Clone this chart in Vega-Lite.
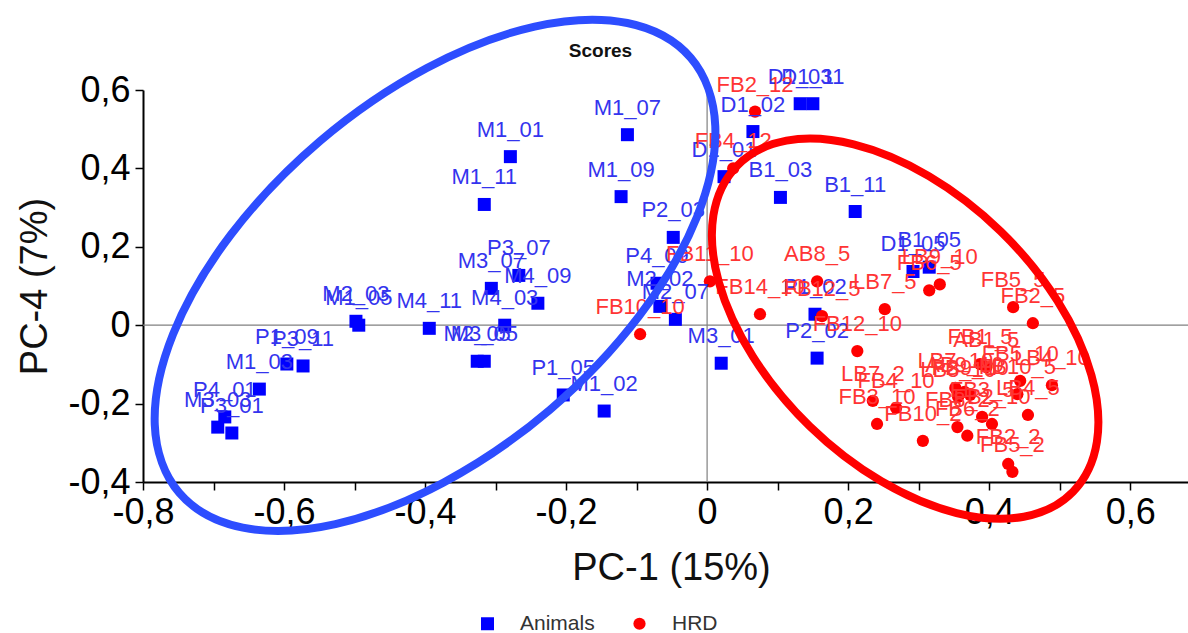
{
  "$schema": "https://vega.github.io/schema/vega-lite/v6.json",
  "width": 1045,
  "height": 392,
  "autosize": {"type": "none"},
  "padding": {"left": 143, "top": 90, "right": 0, "bottom": 151},
  "background": "white",
  "title": {
    "text": "Scores",
    "font": "Liberation Sans",
    "fontSize": 19,
    "fontWeight": "bold",
    "color": "#111111",
    "anchor": "middle",
    "dx": -65,
    "offset": -57
  },
  "config": {
    "view": {"stroke": null},
    "axis": {
      "grid": false,
      "domainColor": "#000000",
      "domainWidth": 2,
      "tickColor": "#000000",
      "tickWidth": 1.5,
      "tickSize": 8,
      "labelFont": "Liberation Sans",
      "labelFontSize": 36,
      "labelColor": "#000000",
      "labelPadding": 5,
      "labelOverlap": false,
      "labelFlush": false,
      "titleFont": "Liberation Sans",
      "titleFontSize": 38,
      "titleFontWeight": "normal",
      "titleColor": "#111111"
    }
  },
  "datasets": {
    "pts": [
      {"group": "Animals", "name": "M1_07", "x": -0.113, "y": 0.486},
      {"group": "Animals", "name": "M1_01", "x": -0.279, "y": 0.430},
      {"group": "Animals", "name": "M1_11", "x": -0.316, "y": 0.308},
      {"group": "Animals", "name": "M1_09", "x": -0.122, "y": 0.328},
      {"group": "Animals", "name": "D1_01", "x": 0.024, "y": 0.379},
      {"group": "Animals", "name": "D1_02", "x": 0.065, "y": 0.494},
      {"group": "Animals", "name": "D1_03", "x": 0.132, "y": 0.565},
      {"group": "Animals", "name": "D1_11", "x": 0.150, "y": 0.565},
      {"group": "Animals", "name": "P2_03", "x": -0.048, "y": 0.224},
      {"group": "Animals", "name": "P4_09", "x": -0.071, "y": 0.107},
      {"group": "Animals", "name": "M2_02", "x": -0.067, "y": 0.048},
      {"group": "Animals", "name": "M2_07", "x": -0.045, "y": 0.015},
      {"group": "Animals", "name": "M3_07", "x": -0.306, "y": 0.094},
      {"group": "Animals", "name": "P3_07", "x": -0.267, "y": 0.127},
      {"group": "Animals", "name": "M4_09", "x": -0.240, "y": 0.056},
      {"group": "Animals", "name": "M4_03", "x": -0.287, "y": 0.0},
      {"group": "Animals", "name": "M4_11", "x": -0.394, "y": -0.008},
      {"group": "Animals", "name": "M2_03", "x": -0.498, "y": 0.010},
      {"group": "Animals", "name": "M1_05", "x": -0.494, "y": 0.0},
      {"group": "Animals", "name": "M2_05", "x": -0.326, "y": -0.092},
      {"group": "Animals", "name": "M3_05", "x": -0.316, "y": -0.092},
      {"group": "Animals", "name": "P1_09", "x": -0.596, "y": -0.099},
      {"group": "Animals", "name": "P3_11", "x": -0.573, "y": -0.104},
      {"group": "Animals", "name": "M1_03", "x": -0.635, "y": -0.163},
      {"group": "Animals", "name": "P4_01", "x": -0.684, "y": -0.234},
      {"group": "Animals", "name": "M3_03", "x": -0.694, "y": -0.260},
      {"group": "Animals", "name": "P3_01", "x": -0.674, "y": -0.275},
      {"group": "Animals", "name": "P1_05", "x": -0.204, "y": -0.178},
      {"group": "Animals", "name": "M1_02", "x": -0.146, "y": -0.219},
      {"group": "Animals", "name": "M3_01", "x": 0.020, "y": -0.097},
      {"group": "Animals", "name": "B1_03", "x": 0.104, "y": 0.326},
      {"group": "Animals", "name": "B1_11", "x": 0.210, "y": 0.290},
      {"group": "Animals", "name": "D1_05", "x": 0.292, "y": 0.137},
      {"group": "Animals", "name": "B1_05", "x": 0.315, "y": 0.148},
      {"group": "Animals", "name": "P1_02", "x": 0.153, "y": 0.028},
      {"group": "Animals", "name": "P2_02", "x": 0.156, "y": -0.084},
      {"group": "HRD", "name": "FB11_10", "x": 0.004, "y": 0.112},
      {"group": "HRD", "name": "FB14_10", "x": 0.075, "y": 0.028},
      {"group": "HRD", "name": "AB8_5", "x": 0.156, "y": 0.112},
      {"group": "HRD", "name": "FB12_5", "x": 0.163, "y": 0.023},
      {"group": "HRD", "name": "LB7_5", "x": 0.252, "y": 0.041},
      {"group": "HRD", "name": "FB12_10", "x": 0.213, "y": -0.066},
      {"group": "HRD", "name": "FB6_5", "x": 0.315, "y": 0.089},
      {"group": "HRD", "name": "LB9_10", "x": 0.330, "y": 0.104},
      {"group": "HRD", "name": "FB5_5", "x": 0.434, "y": 0.046},
      {"group": "HRD", "name": "FB2_5", "x": 0.462, "y": 0.005},
      {"group": "HRD", "name": "FB4_12", "x": 0.037, "y": 0.400},
      {"group": "HRD", "name": "FB2_12", "x": 0.068, "y": 0.545},
      {"group": "HRD", "name": "FB10_10", "x": -0.095, "y": -0.023},
      {"group": "HRD", "name": "FB1_5", "x": 0.387, "y": -0.099},
      {"group": "HRD", "name": "AB1_5", "x": 0.396, "y": -0.107},
      {"group": "HRD", "name": "FB5_10", "x": 0.444, "y": -0.142},
      {"group": "HRD", "name": "LB4_10", "x": 0.489, "y": -0.153},
      {"group": "HRD", "name": "FB10_5", "x": 0.440, "y": -0.176},
      {"group": "HRD", "name": "LB7_10", "x": 0.352, "y": -0.160},
      {"group": "HRD", "name": "AB9_10", "x": 0.365, "y": -0.170},
      {"group": "HRD", "name": "FB9_10", "x": 0.373, "y": -0.178},
      {"group": "HRD", "name": "LB8_10", "x": 0.356, "y": -0.183},
      {"group": "HRD", "name": "LB7_2", "x": 0.235, "y": -0.193},
      {"group": "HRD", "name": "FB4_10", "x": 0.268, "y": -0.211},
      {"group": "HRD", "name": "FB3_10", "x": 0.241, "y": -0.252},
      {"group": "HRD", "name": "FB3_5", "x": 0.390, "y": -0.234},
      {"group": "HRD", "name": "FB2_10", "x": 0.404, "y": -0.252},
      {"group": "HRD", "name": "LB4_5", "x": 0.455, "y": -0.229},
      {"group": "HRD", "name": "FB8_2", "x": 0.355, "y": -0.260},
      {"group": "HRD", "name": "FB6_2", "x": 0.369, "y": -0.282},
      {"group": "HRD", "name": "FB10_2", "x": 0.306, "y": -0.295},
      {"group": "HRD", "name": "FB2_2", "x": 0.427, "y": -0.354},
      {"group": "HRD", "name": "FB5_2", "x": 0.433, "y": -0.374}
    ],
    "rings": [
      {"ring": "blue", "i": 0, "x": -0.0231, "y": 0.682},
      {"ring": "blue", "i": 1, "x": 0.0116, "y": 0.508},
      {"ring": "blue", "i": 2, "x": -0.0142, "y": 0.277},
      {"ring": "blue", "i": 3, "x": -0.0965, "y": 0.023},
      {"ring": "blue", "i": 4, "x": -0.2228, "y": -0.2155},
      {"ring": "blue", "i": 5, "x": -0.3742, "y": -0.4017},
      {"ring": "blue", "i": 6, "x": -0.5271, "y": -0.5074},
      {"ring": "blue", "i": 7, "x": -0.6584, "y": -0.5165},
      {"ring": "blue", "i": 8, "x": -0.7485, "y": -0.4277},
      {"ring": "blue", "i": 9, "x": -0.7833, "y": -0.2539},
      {"ring": "blue", "i": 10, "x": -0.7574, "y": -0.0229},
      {"ring": "blue", "i": 11, "x": -0.6752, "y": 0.2313},
      {"ring": "blue", "i": 12, "x": -0.5488, "y": 0.47},
      {"ring": "blue", "i": 13, "x": -0.3974, "y": 0.6562},
      {"ring": "blue", "i": 14, "x": -0.2445, "y": 0.7618},
      {"ring": "blue", "i": 15, "x": -0.1132, "y": 0.771},
      {"ring": "red", "i": 0, "x": 0.519, "y": -0.4247},
      {"ring": "red", "i": 1, "x": 0.4492, "y": -0.4885},
      {"ring": "red", "i": 2, "x": 0.3538, "y": -0.4791},
      {"ring": "red", "i": 3, "x": 0.2472, "y": -0.3982},
      {"ring": "red", "i": 4, "x": 0.1457, "y": -0.258},
      {"ring": "red", "i": 5, "x": 0.0648, "y": -0.0796},
      {"ring": "red", "i": 6, "x": 0.0167, "y": 0.1092},
      {"ring": "red", "i": 7, "x": 0.0089, "y": 0.2799},
      {"ring": "red", "i": 8, "x": 0.0427, "y": 0.4069},
      {"ring": "red", "i": 9, "x": 0.1125, "y": 0.4707},
      {"ring": "red", "i": 10, "x": 0.2079, "y": 0.4613},
      {"ring": "red", "i": 11, "x": 0.3145, "y": 0.3804},
      {"ring": "red", "i": 12, "x": 0.416, "y": 0.2402},
      {"ring": "red", "i": 13, "x": 0.4969, "y": 0.0618},
      {"ring": "red", "i": 14, "x": 0.545, "y": -0.127},
      {"ring": "red", "i": 15, "x": 0.5528, "y": -0.2977}
    ]
  },
  "layer": [
    {
      "data": {"values": [{}]},
      "mark": {"type": "rule", "color": "#808080", "strokeWidth": 1.2},
      "encoding": {"x": {"datum": 0, "type": "quantitative"}}
    },
    {
      "data": {"values": [{}]},
      "mark": {"type": "rule", "color": "#808080", "strokeWidth": 1.2},
      "encoding": {"y": {"datum": 0, "type": "quantitative"}}
    },
    {
      "data": {"name": "pts"},
      "mark": {"type": "point", "filled": true, "opacity": 1},
      "encoding": {
        "x": {
          "field": "x", "type": "quantitative",
          "scale": {"domain": [-0.8, 0.682], "nice": false, "zero": false},
          "axis": {
            "title": "PC-1 (15%)",
            "values": [-0.8, -0.7, -0.6, -0.5, -0.4, -0.3, -0.2, -0.1, 0, 0.1, 0.2, 0.3, 0.4, 0.5, 0.6],
            "labelExpr": "abs(round(datum.value*10)) % 2 == 0 ? (abs(datum.value) < 1e-9 ? '0' : (datum.value < 0 ? '-' : '') + replace(format(abs(datum.value), '.1f'), '.', ',')) : ''",
            "titleX": 528,
            "titleY": 86,
            "titleBaseline": "middle"
          }
        },
        "y": {
          "field": "y", "type": "quantitative",
          "scale": {"domain": [-0.4, 0.6], "nice": false, "zero": false},
          "axis": {
            "title": "PC-4 (7%)",
            "values": [-0.4, -0.3, -0.2, -0.1, 0, 0.1, 0.2, 0.3, 0.4, 0.5, 0.6],
            "labelExpr": "abs(round(datum.value*10)) % 2 == 0 ? (abs(datum.value) < 1e-9 ? '0' : (datum.value < 0 ? '-' : '') + replace(format(abs(datum.value), '.1f'), '.', ',')) : ''",
            "titleX": -108,
            "titleY": 196,
            "titleAngle": -90,
            "titleAlign": "center",
            "titleBaseline": "middle"
          }
        },
        "color": {
          "field": "group", "type": "nominal",
          "scale": {"domain": ["Animals", "HRD"], "range": ["#0000ff", "#ff0000"]},
          "legend": {
            "title": null,
            "orient": "none",
            "direction": "horizontal",
            "legendX": 334,
            "legendY": 523,
            "labelFont": "Liberation Sans",
            "labelFontSize": 21,
            "labelColor": "#333333",
            "labelOffset": 22,
            "columnPadding": 34,
            "symbolSize": 210,
            "symbolStrokeWidth": 0
          }
        },
        "shape": {
          "field": "group", "type": "nominal",
          "scale": {"domain": ["Animals", "HRD"], "range": ["square", "circle"]}
        },
        "size": {
          "field": "group", "type": "nominal",
          "scale": {"domain": ["Animals", "HRD"], "range": [169, 150]},
          "legend": null
        }
      }
    },
    {
      "data": {"name": "pts"},
      "mark": {"type": "text", "font": "Liberation Sans", "fontSize": 22, "dy": -27, "align": "center", "baseline": "middle"},
      "encoding": {
        "x": {"field": "x", "type": "quantitative"},
        "y": {"field": "y", "type": "quantitative"},
        "text": {"field": "name"},
        "color": {"condition": {"test": "datum.group === 'HRD'", "value": "#ff3434"}, "value": "#3434ee"}
      }
    },
    {
      "data": {"name": "rings"},
      "mark": {"type": "line", "interpolate": "cardinal-closed", "strokeWidth": 8},
      "encoding": {
        "x": {"field": "x", "type": "quantitative"},
        "y": {"field": "y", "type": "quantitative"},
        "detail": {"field": "ring"},
        "order": {"field": "i", "type": "quantitative"},
        "color": {"condition": {"test": "datum.ring === 'red'", "value": "#ff0000"}, "value": "#2d4dff"}
      }
    }
  ]
}
